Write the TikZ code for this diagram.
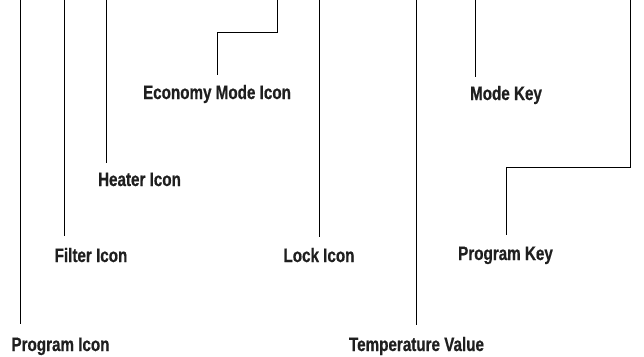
\documentclass[tikz,border=0pt]{standalone}
\usepackage{fontspec}
\newfontfamily\labfont{Liberation Sans}[FakeStretch=0.78,BoldFont={Liberation Sans Bold},BoldFeatures={FakeBold=0.6}]
\begin{document}
\begin{tikzpicture}[x=1pt,y=-1pt,
  lbl/.style={anchor=base,inner sep=0pt,text=black!88,font=\labfont\bfseries\fontsize{19.5}{22}\selectfont},
  lead/.style={draw=black,line width=0.9pt}]
\useasboundingbox (0,0) rectangle (644,356);
% labels
\node[lbl] (progicon) at (60.5,351) {Program Icon};
\node[lbl] (filter) at (91,262) {Filter Icon};
\node[lbl] (heater) at (139.5,186) {Heater Icon};
\node[lbl] (econ) at (217,99) {Economy Mode Icon};
\node[lbl] (lock) at (319,262) {Lock Icon};
\node[lbl] (temp) at (416.5,351) {Temperature Value};
\node[lbl] (mode) at (506,100) {Mode Key};
\node[lbl] (progkey) at (505.5,260) {Program Key};
% leader coordinates
\coordinate (tProg) at (20,0);   \coordinate (eProg) at (20,324);
\coordinate (tFilt) at (64,0);   \coordinate (eFilt) at (64,236);
\coordinate (tHeat) at (106,0);  \coordinate (eHeat) at (106,163);
\coordinate (tEcon) at (277,0);  \coordinate (eEcon) at (217,75);
\coordinate (tLock) at (319,0);  \coordinate (eLock) at (319,237);
\coordinate (tTemp) at (416,0);  \coordinate (eTemp) at (416,325);
\coordinate (tMode) at (475,0);  \coordinate (eMode) at (475,77);
\coordinate (tPKey) at (630,0);  \coordinate (ePKey) at (506,235);
% leaders
\draw[lead] (tProg) -- (eProg);
\draw[lead] (tFilt) -- (eFilt);
\draw[lead] (tHeat) -- (eHeat);
\draw[lead] (tEcon) -- (277,32) -- (217,32) -- (eEcon);
\draw[lead] (tLock) -- (eLock);
\draw[lead] (tTemp) -- (eTemp);
\draw[lead] (tMode) -- (eMode);
\draw[lead] (tPKey) -- (630,167) -- (506,167) -- (ePKey);
\end{tikzpicture}
\end{document}
